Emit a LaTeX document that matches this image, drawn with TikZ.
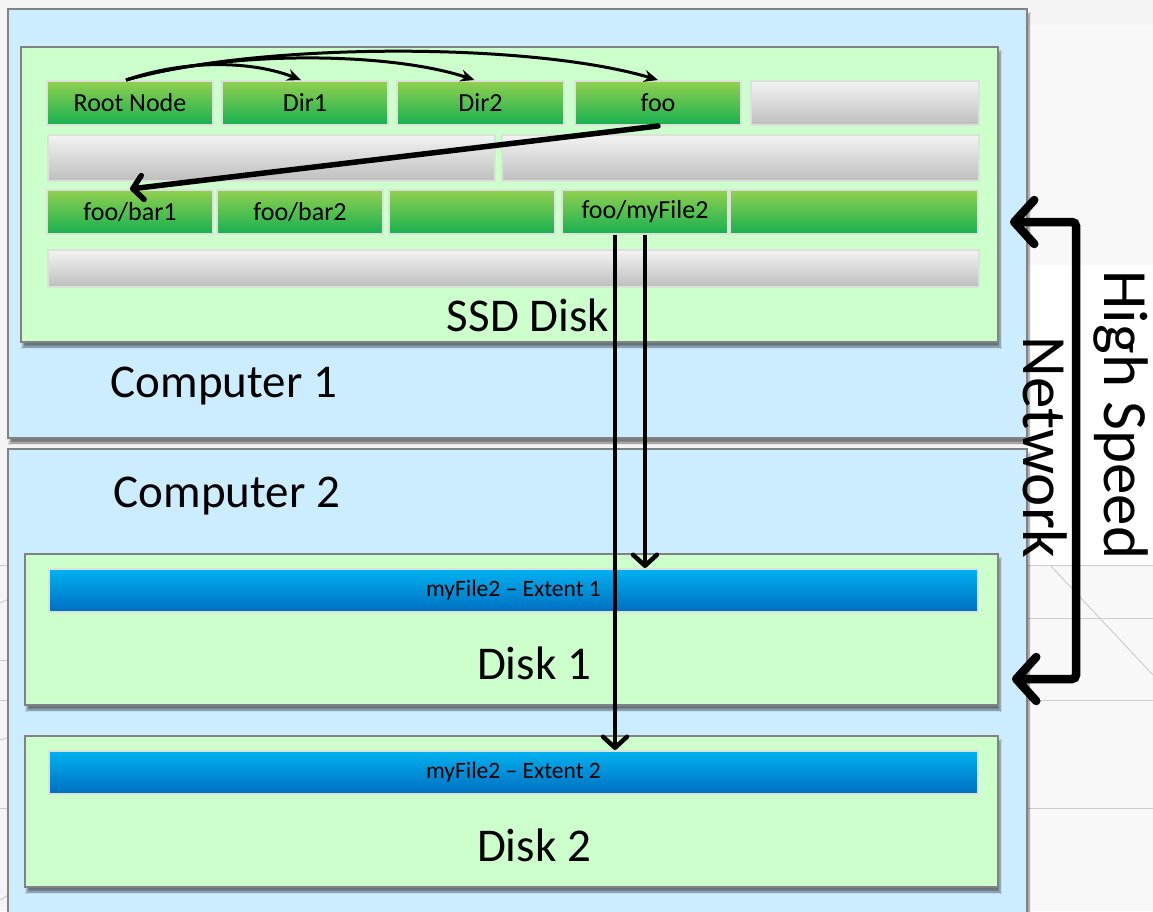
\documentclass[tikz,border=0pt]{standalone}
\usepackage{fontspec}
\setmainfont{Carlito}
\usetikzlibrary{arrows.meta,shadows.blur}

\definecolor{pagebg}{RGB}{244,244,244}
\definecolor{sidebg}{RGB}{248,248,248}
\definecolor{gridline}{RGB}{205,205,205}
\definecolor{compblue}{RGB}{204,236,255}
\definecolor{diskgreen}{RGB}{204,255,204}
\definecolor{boxedge}{RGB}{130,130,130}
\definecolor{cellrim}{RGB}{218,226,218}
\definecolor{greentop}{RGB}{146,208,80}
\definecolor{greenbot}{RGB}{22,176,80}
\definecolor{graytop}{RGB}{243,243,243}
\definecolor{graybot}{RGB}{190,190,190}
\definecolor{bluetop}{RGB}{0,178,240}
\definecolor{bluebot}{RGB}{0,110,192}

\tikzset{
  panel/.style={draw=boxedge, line width=2pt, anchor=north west, inner sep=0pt,
    blur shadow={shadow xshift=2pt, shadow yshift=-5pt, shadow blur steps=6, shadow opacity=50}},
  computer/.style={panel, fill=compblue},
  disk/.style={panel, fill=diskgreen},
  cell/.style={draw=cellrim, line width=2pt, anchor=north west, inner sep=0pt,
    font=\fontsize{26}{30}\selectfont},
  greencell/.style={cell, top color=greentop, bottom color=greenbot},
  graycell/.style={cell, top color=graytop, bottom color=graybot},
  extent/.style={cell, top color=bluetop, bottom color=bluebot,
    font=\fontsize{23.5}{28}\selectfont},
  biglabel/.style={font=\fontsize{47}{56}\selectfont, inner sep=0pt},
  netlabel/.style={font=\fontsize{63}{70}\selectfont, inner sep=0pt, rotate=-90},
  linkthin/.style={line width=3pt, -{Stealth[length=14pt, width=12pt]}},
  linkthick/.style={line width=5.5pt, line cap=round, -{Straight Barb[length=10pt, width=24pt, round]}},
  linkdown/.style={line width=4.5pt, -{Straight Barb[length=11pt, width=24pt, round]}},
  netlink/.style={line width=8.5pt, rounded corners=4pt,
    {Straight Barb[length=20pt, width=44pt, round]}-{Straight Barb[length=20pt, width=44pt, round]}},
}

\begin{document}
\begin{tikzpicture}[x=1pt, y=-1pt]
  % page
  \fill[pagebg] (0,0) rectangle (1153,911);
  \useasboundingbox (0,0) rectangle (1153,911);
  \fill[sidebg] (1027,25) rectangle (1153,911);
  \fill[white] (1027,265) rectangle (1153,565);
  \begin{scope}[gridline, line width=1pt]
    \draw (1027,565) -- (1153,565);
    \draw (1027,618) -- (1153,618);
    \draw (1027,700) -- (1153,700);
    \draw (1027,808) -- (1153,808);
    \draw (1050,565) -- (1153,675);
    \draw (0,565) -- (7,565);
    \draw (0,603) -- (7,600);
    \draw (0,660) -- (7,660);
    \draw (0,700) -- (7,700);
    \draw (0,740) -- (7,738);
    \draw (0,808) -- (7,808);
    \draw (0,900) -- (7,896);
  \end{scope}

  % computers
  \node[computer, minimum width=1019pt, minimum height=429pt] (c1) at (7,8) {};
  \node[computer, minimum width=1019pt, minimum height=480pt] (c2) at (7,448) {};
  \node[biglabel] (c1lbl) at (224,386) {Computer 1};
  \node[biglabel] (c2lbl) at (227,496) {Computer 2};

  % SSD disk with its block rows
  \node[disk, minimum width=977pt, minimum height=295pt] (ssd) at (20,46) {};
  \node[biglabel] (ssdlbl) at (528,315) {SSD Disk};

  \node[greencell, minimum width=166pt, minimum height=44pt] (root) at (46,80) {Root Node};
  \node[greencell, minimum width=166pt, minimum height=44pt] (dir1) at (221,80) {Dir1};
  \node[greencell, minimum width=167pt, minimum height=44pt] (dir2) at (396,80) {Dir2};
  \node[greencell, minimum width=166pt, minimum height=44pt] (foo) at (574,80) {foo};
  \node[graycell, minimum width=228pt, minimum height=44pt] (free1) at (750,80) {};

  \node[graycell, minimum width=447pt, minimum height=46pt] (free2) at (47,134) {};
  \node[graycell, minimum width=477pt, minimum height=46pt] (free3) at (501,134) {};

  \node[greencell, minimum width=166pt, minimum height=44pt] (bar1) at (46,189) {foo/bar1};
  \node[greencell, minimum width=166pt, minimum height=44pt] (bar2) at (216,189) {foo/bar2};
  \node[greencell, minimum width=166pt, minimum height=44pt] (used1) at (388,189) {};
  \node[greencell, minimum width=166pt, minimum height=44pt] (myfile) at (561,189) {foo/myFile2};
  \node[greencell, minimum width=248pt, minimum height=44pt] (used2) at (729,189) {};

  \node[graycell, minimum width=931pt, minimum height=37pt] (free4) at (47,249) {};

  % disks of computer 2
  \node[disk, minimum width=973pt, minimum height=151pt] (disk1) at (24,553) {};
  \node[extent, minimum width=929pt, minimum height=43pt] (ext1) at (48,568) {myFile2 – Extent 1};
  \node[biglabel] (d1lbl) at (534,663) {Disk 1};

  \node[disk, minimum width=973pt, minimum height=151pt] (disk2) at (24,735) {};
  \node[extent, minimum width=929pt, minimum height=43pt] (ext2) at (48,750) {myFile2 – Extent 2};
  \node[biglabel] (d2lbl) at (534,845) {Disk 2};

  % directory links
  \draw[linkthin] ([xshift=-4pt]root.north) .. controls (190,58) and (255,62) .. ([xshift=-4pt]dir1.north);
  \draw[linkthin] ([xshift=-4pt]root.north) .. controls (230,50) and (390,52) .. ([xshift=-6pt]dir2.north);
  \draw[linkthin] ([xshift=-4pt]root.north) .. controls (260,42) and (530,42) .. (foo.north);
  \draw[linkthick] (foo.south) -- (bar1.north);

  % file extents on the other machine
  \draw[linkdown] ([xshift=-30pt]myfile.south) -- ([xshift=-30pt]myfile.south |- ext2.north);
  \draw[linkdown] (myfile.south) -- (myfile.south |- ext1.north);

  % network between the machines
  \coordinate (netA) at (1010,222);
  \coordinate (netB) at (1012,679);
  \draw[netlink] (netA) -- (1076,222) -- (1076,679) -- (netB);
  \node[netlabel] (net1) at (1121,415) {High Speed};
  \node[netlabel] (net2) at (1045,447) {Network};
\end{tikzpicture}
\end{document}
